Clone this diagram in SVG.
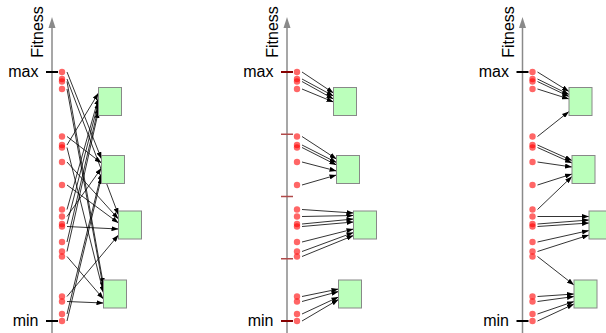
<svg xmlns="http://www.w3.org/2000/svg" width="606" height="333" viewBox="0 0 606 333">
<defs>
<marker id="ah" markerWidth="7" markerHeight="5" refX="7" refY="2.5" orient="auto" markerUnits="userSpaceOnUse"><path d="M0,0 L7,2.5 L0,5 z" fill="#000"/></marker>
<style>
text{font-family:"Liberation Sans",Arial,sans-serif;font-size:16px;fill:#000}
.axis{stroke:#8a8a8a;stroke-width:1.5;fill:none}
.axhead{fill:#8a8a8a}
.tick{stroke:#000;stroke-width:2}
.tickr{stroke:#850000;stroke-width:2}
.div{stroke:#b04a4a;stroke-width:1.5}
.dot{fill:#ff0000;fill-opacity:.6}
.box{fill:#bbffbb;stroke:#888;stroke-width:1}
.con line{stroke:#000;stroke-width:.8;marker-end:url(#ah)}
</style>
</defs>

<!-- Panel 1 -->
<g id="panel1">
<line class="axis" x1="52" y1="333" x2="52" y2="26"/>
<polygon class="axhead" points="52,17 48.5,28 55.5,28"/>
<text transform="translate(43,32) rotate(-90)" text-anchor="middle">Fitness</text>
<text x="38.5" y="76.5" text-anchor="end">max</text>
<text x="38.5" y="325.5" text-anchor="end">min</text>
<line class="tick" x1="46" y1="72" x2="58" y2="72"/>
<line class="tick" x1="46" y1="321" x2="58" y2="321"/>
<g id="p1-connectors" class="con">
<line x1="67" y1="72" x2="101.5" y2="159"/>
<line x1="67" y1="79" x2="118.5" y2="215"/>
<line x1="67" y1="81.5" x2="103.5" y2="285"/>
<line x1="67" y1="89" x2="103.5" y2="289"/>
<line x1="67" y1="136.5" x2="101.5" y2="163"/>
<line x1="67" y1="145" x2="98.5" y2="93"/>
<line x1="67" y1="147.5" x2="103.5" y2="293"/>
<line x1="67" y1="162" x2="118.5" y2="219"/>
<line x1="67" y1="185" x2="118.5" y2="223"/>
<line x1="67" y1="209.5" x2="98.5" y2="98"/>
<line x1="67" y1="216.5" x2="101.5" y2="168"/>
<line x1="67" y1="224" x2="98.5" y2="102"/>
<line x1="67" y1="226.5" x2="118.5" y2="229"/>
<line x1="67" y1="242" x2="98.5" y2="107"/>
<line x1="67" y1="251.5" x2="98.5" y2="111"/>
<line x1="67" y1="256.5" x2="103.5" y2="299"/>
<line x1="67" y1="296.5" x2="118.5" y2="235"/>
<line x1="67" y1="301.5" x2="103.5" y2="303"/>
<line x1="67" y1="314" x2="101.5" y2="173"/>
<line x1="67" y1="321" x2="101.5" y2="177"/>
</g>
<g id="p1-dots">
<circle class="dot" cx="62" cy="72" r="3.2"/><circle class="dot" cx="62" cy="79" r="3.2"/><circle class="dot" cx="62" cy="81.5" r="3.2"/><circle class="dot" cx="62" cy="89" r="3.2"/>
<circle class="dot" cx="62" cy="136.5" r="3.2"/><circle class="dot" cx="62" cy="145" r="3.2"/><circle class="dot" cx="62" cy="147.5" r="3.2"/><circle class="dot" cx="62" cy="162" r="3.2"/><circle class="dot" cx="62" cy="185" r="3.2"/>
<circle class="dot" cx="62" cy="209.5" r="3.2"/><circle class="dot" cx="62" cy="216.5" r="3.2"/><circle class="dot" cx="62" cy="224" r="3.2"/><circle class="dot" cx="62" cy="226.5" r="3.2"/><circle class="dot" cx="62" cy="242" r="3.2"/><circle class="dot" cx="62" cy="251.5" r="3.2"/><circle class="dot" cx="62" cy="256.5" r="3.2"/>
<circle class="dot" cx="62" cy="296.5" r="3.2"/><circle class="dot" cx="62" cy="301.5" r="3.2"/><circle class="dot" cx="62" cy="314" r="3.2"/><circle class="dot" cx="62" cy="321" r="3.2"/>
</g>
<g id="p1-box1"><rect class="box" x="98.5" y="87.5" width="23" height="28"/></g>
<g id="p1-box2"><rect class="box" x="101.5" y="155.5" width="23" height="28"/></g>
<g id="p1-box3"><rect class="box" x="118.5" y="211" width="23" height="28"/></g>
<g id="p1-box4"><rect class="box" x="103.5" y="280" width="23" height="28"/></g>
</g>

<!-- Panel 2 -->
<g id="panel2" transform="translate(235,0)">
<line class="axis" x1="52" y1="333" x2="52" y2="26"/>
<polygon class="axhead" points="52,17 48.5,28 55.5,28"/>
<text transform="translate(43,32) rotate(-90)" text-anchor="middle">Fitness</text>
<text x="38.5" y="76.5" text-anchor="end">max</text>
<text x="38.5" y="325.5" text-anchor="end">min</text>
<line class="tickr" x1="46" y1="72" x2="58" y2="72"/>
<line class="div" x1="46" y1="134.25" x2="58" y2="134.25"/>
<line class="div" x1="46" y1="196.5" x2="58" y2="196.5"/>
<line class="div" x1="46" y1="258.75" x2="58" y2="258.75"/>
<line class="tickr" x1="46" y1="321" x2="58" y2="321"/>
<g id="p2-connectors" class="con">
<line x1="67" y1="72" x2="98.5" y2="93"/>
<line x1="67" y1="79" x2="98.5" y2="96"/>
<line x1="67" y1="81.5" x2="98.5" y2="99"/>
<line x1="67" y1="89" x2="98.5" y2="102"/>
<line x1="67" y1="136.5" x2="101.5" y2="159"/>
<line x1="67" y1="145" x2="101.5" y2="162.5"/>
<line x1="67" y1="147.5" x2="101.5" y2="165"/>
<line x1="67" y1="162" x2="101.5" y2="171"/>
<line x1="67" y1="185" x2="101.5" y2="175"/>
<line x1="67" y1="209.5" x2="118.5" y2="213"/>
<line x1="67" y1="216.5" x2="118.5" y2="215.5"/>
<line x1="67" y1="224" x2="118.5" y2="219"/>
<line x1="67" y1="226.5" x2="118.5" y2="222"/>
<line x1="67" y1="242" x2="118.5" y2="229"/>
<line x1="67" y1="251.5" x2="118.5" y2="232.5"/>
<line x1="67" y1="256.5" x2="118.5" y2="235.5"/>
<line x1="67" y1="296.5" x2="103.5" y2="289"/>
<line x1="67" y1="301.5" x2="103.5" y2="291.5"/>
<line x1="67" y1="314" x2="103.5" y2="297"/>
<line x1="67" y1="321" x2="103.5" y2="299.5"/>
</g>
<g id="p2-dots">
<circle class="dot" cx="62" cy="72" r="3.2"/><circle class="dot" cx="62" cy="79" r="3.2"/><circle class="dot" cx="62" cy="81.5" r="3.2"/><circle class="dot" cx="62" cy="89" r="3.2"/>
<circle class="dot" cx="62" cy="136.5" r="3.2"/><circle class="dot" cx="62" cy="145" r="3.2"/><circle class="dot" cx="62" cy="147.5" r="3.2"/><circle class="dot" cx="62" cy="162" r="3.2"/><circle class="dot" cx="62" cy="185" r="3.2"/>
<circle class="dot" cx="62" cy="209.5" r="3.2"/><circle class="dot" cx="62" cy="216.5" r="3.2"/><circle class="dot" cx="62" cy="224" r="3.2"/><circle class="dot" cx="62" cy="226.5" r="3.2"/><circle class="dot" cx="62" cy="242" r="3.2"/><circle class="dot" cx="62" cy="251.5" r="3.2"/><circle class="dot" cx="62" cy="256.5" r="3.2"/>
<circle class="dot" cx="62" cy="296.5" r="3.2"/><circle class="dot" cx="62" cy="301.5" r="3.2"/><circle class="dot" cx="62" cy="314" r="3.2"/><circle class="dot" cx="62" cy="321" r="3.2"/>
</g>
<g id="p2-box1"><rect class="box" x="98.5" y="87.5" width="23" height="28"/></g>
<g id="p2-box2"><rect class="box" x="101.5" y="155.5" width="23" height="28"/></g>
<g id="p2-box3"><rect class="box" x="118.5" y="211" width="23" height="28"/></g>
<g id="p2-box4"><rect class="box" x="103.5" y="280" width="23" height="28"/></g>
</g>

<!-- Panel 3 -->
<g id="panel3" transform="translate(470.5,0)">
<line class="axis" x1="52" y1="333" x2="52" y2="26"/>
<polygon class="axhead" points="52,17 48.5,28 55.5,28"/>
<text transform="translate(43,32) rotate(-90)" text-anchor="middle">Fitness</text>
<text x="38.5" y="76.5" text-anchor="end">max</text>
<text x="38.5" y="325.5" text-anchor="end">min</text>
<line class="tick" x1="46" y1="72" x2="58" y2="72"/>
<line class="tick" x1="46" y1="321" x2="58" y2="321"/>
<g id="p3-connectors" class="con">
<line x1="67" y1="72" x2="98.5" y2="91.5"/>
<line x1="67" y1="79" x2="98.5" y2="94.5"/>
<line x1="67" y1="81.5" x2="98.5" y2="96.5"/>
<line x1="67" y1="89" x2="98.5" y2="99"/>
<line x1="67" y1="136.5" x2="98.5" y2="111.5"/>
<line x1="67" y1="145" x2="101.5" y2="160.5"/>
<line x1="67" y1="147.5" x2="101.5" y2="163"/>
<line x1="67" y1="162" x2="101.5" y2="167"/>
<line x1="67" y1="185" x2="101.5" y2="174"/>
<line x1="67" y1="209.5" x2="101.5" y2="176.5"/>
<line x1="67" y1="216.5" x2="118.5" y2="216.5"/>
<line x1="67" y1="224" x2="118.5" y2="220"/>
<line x1="67" y1="226.5" x2="118.5" y2="223"/>
<line x1="67" y1="242" x2="118.5" y2="230.5"/>
<line x1="67" y1="251.5" x2="118.5" y2="235"/>
<line x1="67" y1="256.5" x2="103.5" y2="285"/>
<line x1="67" y1="296.5" x2="103.5" y2="294"/>
<line x1="67" y1="301.5" x2="103.5" y2="296.5"/>
<line x1="67" y1="314" x2="103.5" y2="301.5"/>
<line x1="67" y1="321" x2="103.5" y2="304"/>
</g>
<g id="p3-dots">
<circle class="dot" cx="62" cy="72" r="3.2"/><circle class="dot" cx="62" cy="79" r="3.2"/><circle class="dot" cx="62" cy="81.5" r="3.2"/><circle class="dot" cx="62" cy="89" r="3.2"/>
<circle class="dot" cx="62" cy="136.5" r="3.2"/><circle class="dot" cx="62" cy="145" r="3.2"/><circle class="dot" cx="62" cy="147.5" r="3.2"/><circle class="dot" cx="62" cy="162" r="3.2"/><circle class="dot" cx="62" cy="185" r="3.2"/>
<circle class="dot" cx="62" cy="209.5" r="3.2"/><circle class="dot" cx="62" cy="216.5" r="3.2"/><circle class="dot" cx="62" cy="224" r="3.2"/><circle class="dot" cx="62" cy="226.5" r="3.2"/><circle class="dot" cx="62" cy="242" r="3.2"/><circle class="dot" cx="62" cy="251.5" r="3.2"/><circle class="dot" cx="62" cy="256.5" r="3.2"/>
<circle class="dot" cx="62" cy="296.5" r="3.2"/><circle class="dot" cx="62" cy="301.5" r="3.2"/><circle class="dot" cx="62" cy="314" r="3.2"/><circle class="dot" cx="62" cy="321" r="3.2"/>
</g>
<g id="p3-box1"><rect class="box" x="98.5" y="87.5" width="23" height="28"/></g>
<g id="p3-box2"><rect class="box" x="101.5" y="155.5" width="23" height="28"/></g>
<g id="p3-box3"><rect class="box" x="118.5" y="211" width="23" height="28"/></g>
<g id="p3-box4"><rect class="box" x="103.5" y="280" width="23" height="28"/></g>
</g>
</svg>
